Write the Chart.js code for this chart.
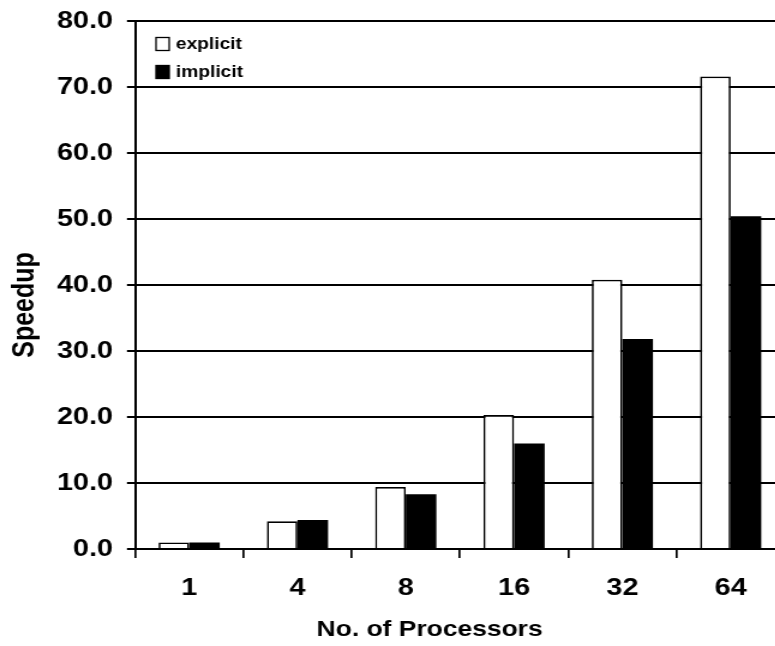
<!DOCTYPE html>
<html>
<head>
<meta charset="utf-8">
<script src="https://cdn.jsdelivr.net/npm/chart.js@4/dist/chart.umd.min.js"></script>
<style>
  html, body { margin: 0; padding: 0; background: #fff; overflow: hidden; }
  /* the figure is drawn narrow and widened horizontally, like the original plot */
  #wrap { width: 654px; height: 646px; transform: scaleX(1.2); transform-origin: 0 0; }
</style>
</head>
<body>
<div id="wrap"><canvas id="c" width="654" height="646"></canvas></div>
<script>
const processors = ['1', '4', '8', '16', '32', '64'];
const explicitSpeedup = [1.0, 4.2, 9.4, 20.3, 40.8, 71.6];
const implicitSpeedup = [1.0, 4.4, 8.3, 16.0, 31.8, 50.4];
const yTickValues = [0, 10, 20, 30, 40, 50, 60, 70, 80];
const xAxisTitle = 'No. of Processors';
const yAxisTitle = 'Speedup';

const FONT = '"Liberation Sans", Arial, sans-serif';

// legend drawn inside the plot, top-left corner
const insideLegend = {
  id: 'insideLegend',
  afterDatasetsDraw(chart, args, opts) {
    const { ctx, chartArea } = chart;
    ctx.save();
    ctx.font = 'bold ' + opts.fontSize + 'px ' + FONT;
    ctx.textBaseline = 'middle';
    ctx.textAlign = 'left';
    chart.data.datasets.forEach((ds, i) => {
      const yMid = chartArea.top + opts.top + i * opts.spacing;
      const bx = chartArea.left + opts.left;
      ctx.fillStyle = ds.backgroundColor;
      ctx.fillRect(bx, yMid - opts.boxH / 2, opts.boxW, opts.boxH);
      ctx.lineWidth = 1.3;
      ctx.strokeStyle = '#000';
      ctx.strokeRect(bx, yMid - opts.boxH / 2, opts.boxW, opts.boxH);
      ctx.fillStyle = '#000';
      ctx.fillText(ds.label, chartArea.left + opts.textLeft, yMid + 1);
    });
    ctx.restore();
  }
};

// axis titles placed freely, as in the original figure
const axisTitles = {
  id: 'axisTitles',
  afterDraw(chart, args, opts) {
    const { ctx } = chart;
    ctx.save();
    ctx.fillStyle = '#000';
    ctx.textAlign = 'center';
    ctx.textBaseline = 'middle';
    ctx.font = 'bold ' + opts.xSize + 'px ' + FONT;
    ctx.fillText(xAxisTitle, opts.xPos[0], opts.xPos[1]);
    ctx.translate(opts.yPos[0], opts.yPos[1]);
    ctx.rotate(-Math.PI / 2);
    ctx.font = 'bold ' + opts.ySize + 'px ' + FONT;
    ctx.fillText(yAxisTitle, 0, 0);
    ctx.restore();
  }
};

new Chart(document.getElementById('c'), {
  type: 'bar',
  data: {
    labels: processors,
    datasets: [
      {
        label: 'explicit',
        data: explicitSpeedup,
        backgroundColor: '#ffffff',
        borderColor: '#000000',
        borderWidth: 1.7,
        borderSkipped: 'bottom'
      },
      {
        label: 'implicit',
        data: implicitSpeedup,
        backgroundColor: '#000000',
        borderColor: '#000000',
        borderWidth: 0
      }
    ]
  },
  options: {
    responsive: false,
    devicePixelRatio: 1,
    animation: false,
    layout: { padding: { top: 21, right: 0, bottom: 0, left: 0 } },
    datasets: { bar: { categoryPercentage: 0.565, barPercentage: 1.0 } },
    plugins: {
      legend: { display: false },
      tooltip: { enabled: false },
      insideLegend: { left: 17.5, top: 23, spacing: 28, boxW: 11, boxH: 13, textLeft: 34, fontSize: 16 },
      axisTitles: { xSize: 22, ySize: 25, xPos: [358, 630], yPos: [21, 305] }
    },
    scales: {
      x: {
        offset: true,
        grid: { drawOnChartArea: false, drawTicks: true, tickLength: 9, color: '#000', lineWidth: 1.7, offset: true },
        border: { display: true, color: '#000', width: 2 },
        ticks: { color: '#000', padding: 16, font: { family: FONT, size: 24, weight: 'bold' } },
        afterFit(scale) { scale.height = 97; }
      },
      y: {
        min: 0,
        max: 80,
        afterBuildTicks(scale) { scale.ticks = yTickValues.map(v => ({ value: v })); },
        grid: { color: '#000', lineWidth: 2, drawTicks: true, tickLength: 6.7 },
        border: { display: true, color: '#000', width: 2 },
        ticks: { color: '#000', padding: 11.6, font: { family: FONT, size: 24, weight: 'bold', lineHeight: 0.6 },
                 callback: v => Number(v).toFixed(1) },
        afterFit(scale) { scale.width = 112.5; }
      }
    }
  },
  plugins: [insideLegend, axisTitles]
});
</script>
</body>
</html>
